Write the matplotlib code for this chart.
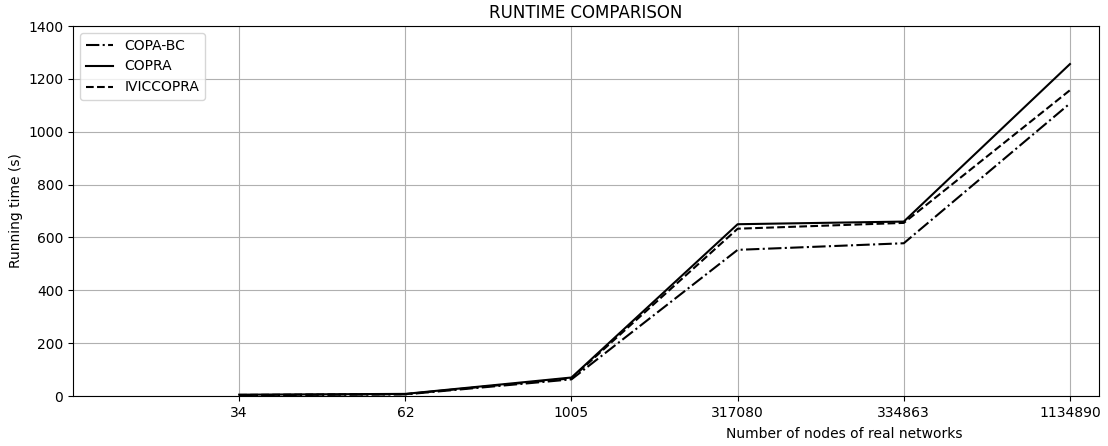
import matplotlib
matplotlib.use('Agg')
import matplotlib.pyplot as plt

# 数据
nodes = ['34', '62', '1005', '317080', '334863', '1134890']
copa_bc = [3, 6, 63, 553, 578, 1107]
copra = [5, 8, 70, 650, 660, 1256]
iviccopra = [4, 7, 67, 633, 655, 1157]

x = list(range(1, len(nodes) + 1))

fig = plt.figure(figsize=(11.08, 4.46), dpi=100)
ax = fig.add_axes([0.0659, 0.1121, 0.926, 0.8296])

ax.plot(x, copa_bc, color='black', linestyle='-.', label='COPA-BC')
ax.plot(x, copra, color='black', linestyle='-', label='COPRA')
ax.plot(x, iviccopra, color='black', linestyle='--', label='IVICCOPRA')

ax.set_xticks(x)
ax.set_xticklabels(nodes)
ax.set_xlim(0, 6.175)
ax.set_ylim(0, 1400)
ax.set_title('RUNTIME COMPARISON')
ax.set_xlabel('Number of nodes of real networks')
ax.xaxis.set_label_coords(0.752, -0.085)
ax.set_ylabel('Running time (s)')
ax.legend(loc='upper left')
ax.grid(True)

fig.savefig('out.png', dpi=100)
